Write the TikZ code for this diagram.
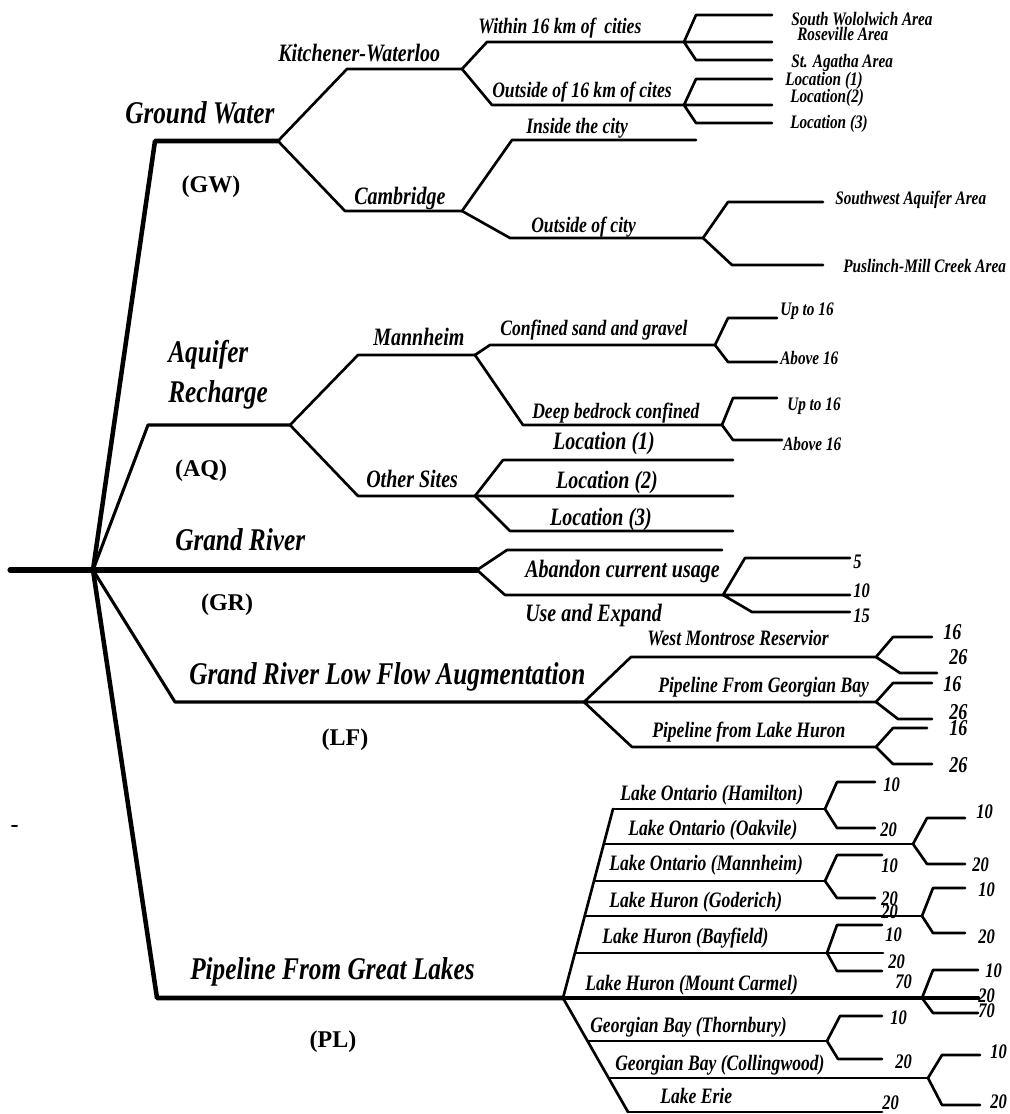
\documentclass[tikz,border=0pt]{standalone}
\usepackage{fontspec}
\setmainfont{Liberation Serif}[FakeStretch=0.8]
\newfontfamily\abbrfont{Liberation Serif}
\begin{document}
\begin{tikzpicture}[x=0.75pt, y=-0.75pt, line join=round, line cap=round,
	trunk/.style={line width=3.4pt}, limb/.style={line width=2.3pt}, twig/.style={line width=2pt},
	lvA/.style={inner sep=0pt, anchor=base west, font=\fontsize{23.7}{28}\selectfont\bfseries\itshape},
	lvB/.style={inner sep=0pt, anchor=base west, font=\fontsize{18.75}{22}\selectfont\bfseries\itshape},
	lvC/.style={inner sep=0pt, anchor=base west, font=\fontsize{16.5}{19}\selectfont\bfseries\itshape},
	leaf/.style={inner sep=0pt, anchor=base west, font=\fontsize{14.3}{16}\selectfont\bfseries\itshape},
	num/.style={inner sep=0pt, anchor=west, font=\fontsize{15.5}{17}\selectfont\bfseries\itshape},
	bignum/.style={inner sep=0pt, anchor=west, font=\fontsize{17}{19}\selectfont\bfseries\itshape},
	abbr/.style={inner sep=0pt, font=\fontsize{18}{20}\selectfont\abbrfont\bfseries}]
	\useasboundingbox (0,0) rectangle (1010,1114);
	% main branches
	\coordinate (tail) at (10,570); \coordinate (root) at (93,570);
	\coordinate (gwC) at (155,141); \coordinate (gwF) at (278,141);
	\coordinate (aqC) at (148,425); \coordinate (aqF) at (290,425);
	\coordinate (grF) at (477,570);
	\coordinate (lfC) at (175,702); \coordinate (lfF) at (584,702);
	\coordinate (plC) at (157,998); \coordinate (plF) at (563,998);
	\draw[trunk] (root)--(gwC)--(gwF);
	\draw[limb] (root)--(aqC)--(aqF);
	\draw[line width=3.8pt] (tail)--(root)--(grF);
	\draw[limb] (root)--(lfC)--(lfF);
	\draw[trunk] (root)--(plC)--(plF);
	\draw[line width=1.5pt] (12,826)--(17,826);
	\node[lvA] (gw) at (125,123) {Ground Water};
	\node[lvA] (aq1) at (168,362) {Aquifer};
	\node[lvA] (aq2) at (168,402) {Recharge};
	\node[lvA] (gr) at (175,550) {Grand River};
	\node[lvA] (lf) at (189,684) {Grand River Low Flow Augmentation};
	\node[lvA] (pl) at (190,979) {Pipeline From Great Lakes};
	\node[abbr] (gwA) at (211,187) {(GW)};
	\node[abbr] (aqA) at (201,471) {(AQ)};
	\node[abbr] (grA) at (227,605) {(GR)};
	\node[abbr] (lfA) at (345,740) {(LF)};
	\node[abbr] (plA) at (333,1042) {(PL)};
	% ground water
	\coordinate (kwC) at (347,69); \coordinate (kwF) at (462,69);
	\coordinate (cbC) at (345,211); \coordinate (cbF) at (462,211);
	\draw[twig] (gwF)--(kwC)--(kwF);
	\draw[twig] (gwF)--(cbC)--(cbF);
	\node[lvB] (kw) at (278,61) {Kitchener-Waterloo};
	\node[lvB] (cb) at (354,204) {Cambridge};
	\coordinate (wiC) at (487,42); \coordinate (wiF) at (684,42);
	\coordinate (ouC) at (492,105); \coordinate (ouF) at (684,105);
	\draw[twig] (kwF)--(wiC)--(wiF);
	\draw[twig] (kwF)--(ouC)--(ouF);
	\node[lvC] (wi) at (478,33) {Within 16 km of\ \ cities};
	\node[lvC] (ou) at (492,97) {Outside of 16 km of cites};
	\draw[twig] (wiF)--(696,15)--(772,15) (wiF)--(772,42) (wiF)--(696,60)--(772,60);
	\draw[twig] (ouF)--(696,79)--(772,79) (ouF)--(772,105) (ouF)--(696,123)--(772,123);
	\node[leaf] (wi1) at (791,25) {South Wololwich Area};
	\node[leaf] (wi2) at (797,40) {Roseville Area};
	\node[leaf] (wi3) at (791,67) {St. Agatha Area};
	\node[leaf] (ou1) at (785,85) {Location (1)};
	\node[leaf] (ou2) at (790,102) {Location(2)};
	\node[leaf] (ou3) at (790,128) {Location (3)};
	\coordinate (inC) at (512,140); \coordinate (inE) at (696,140);
	\coordinate (ocC) at (510,238); \coordinate (ocF) at (703,238);
	\draw[twig] (cbF)--(inC)--(inE);
	\draw[twig] (cbF)--(ocC)--(ocF);
	\node[lvC] (in) at (526,133) {Inside the city};
	\node[lvC] (oc) at (531,232) {Outside of city};
	\draw[twig] (ocF)--(728,202)--(823,202) (ocF)--(732,265)--(823,265);
	\node[leaf] (oc1) at (835,204) {Southwest Aquifer Area};
	\node[leaf] (oc2) at (843,272) {Puslinch-Mill Creek Area};
	% aquifer recharge
	\coordinate (mhC) at (358,355); \coordinate (mhF) at (475,355);
	\coordinate (osC) at (358,496); \coordinate (osF) at (475,496);
	\draw[twig] (aqF)--(mhC)--(mhF);
	\draw[twig] (aqF)--(osC)--(osF);
	\node[lvB] (mh) at (373,345) {Mannheim};
	\node[lvB] (os) at (366,487) {Other Sites};
	\coordinate (csC) at (490,345); \coordinate (csF) at (715,345);
	\coordinate (dbC) at (523,425); \coordinate (dbF) at (722,425);
	\draw[twig] (mhF)--(csC)--(csF);
	\draw[twig] (mhF)--(dbC)--(dbF);
	\node[lvC] (cs) at (500,335) {Confined sand and gravel};
	\node[lvC] (db) at (532,418) {Deep bedrock confined};
	\draw[twig] (csF)--(728,318)--(777,318) (csF)--(728,362)--(777,362);
	\draw[twig] (dbF)--(733,398)--(777,398) (dbF)--(733,440)--(782,440);
	\node[leaf] (cs1) at (780,315) {Up to 16};
	\node[leaf] (cs2) at (780,364) {Above 16};
	\node[leaf] (db1) at (787,410) {Up to 16};
	\node[leaf] (db2) at (783,450) {Above 16};
	\draw[twig] (osF)--(503,460)--(733,460) (osF)--(733,496) (osF)--(510,531)--(733,531);
	\node[lvB, anchor=base] (os1) at (604,449) {Location (1)};
	\node[lvB, anchor=base] (os2) at (607,488) {Location (2)};
	\node[lvB, anchor=base] (os3) at (601,525) {Location (3)};
	% grand river
	\coordinate (ueF) at (723,595);
	\draw[twig] (grF)--(507,550)--(722,550);
	\draw[twig] (grF)--(505,595)--(ueF);
	\node[lvB] (ab) at (525,577) {Abandon current usage};
	\node[lvB] (ue) at (525,621) {Use and Expand};
	\draw[twig] (ueF)--(745,558)--(850,558) (ueF)--(850,595) (ueF)--(752,612)--(850,612);
	\node[num] (ue1) at (853,562) {5};
	\node[num] (ue2) at (853,591) {10};
	\node[num] (ue3) at (853,616) {15};
	% low flow augmentation
	\coordinate (wmF) at (876,657); \coordinate (gbF) at (876,702); \coordinate (lhF) at (876,747);
	\draw[twig] (lfF)--(631,657)--(wmF) (lfF)--(gbF) (lfF)--(632,747)--(lhF);
	\node[lvC] (wm) at (647,645) {West Montrose Reservior};
	\node[lvC] (gb) at (658,692) {Pipeline From Georgian Bay};
	\node[lvC] (lh) at (652,737) {Pipeline from Lake Huron};
	\draw[twig] (wmF)--(893,637)--(932,637) (wmF)--(900,673)--(937,673);
	\draw[twig] (gbF)--(893,683)--(932,683) (gbF)--(898,719)--(932,719);
	\draw[twig] (lhF)--(893,728)--(927,728) (lhF)--(893,764)--(932,764);
	\node[bignum] (wm1) at (943,632) {16};
	\node[bignum] (wm2) at (949,657) {26};
	\node[bignum] (gb1) at (943,684) {16};
	\node[bignum] (gb2) at (949,712) {26};
	\node[bignum] (lh1) at (949,728) {16};
	\node[bignum] (lh2) at (949,765) {26};
	% pipeline from great lakes
	\coordinate (hoP) at (613,809); \coordinate (oaP) at (604,844); \coordinate (maP) at (594,881);
	\coordinate (goP) at (585,916); \coordinate (baP) at (575,953);
	\coordinate (thP) at (588,1041); \coordinate (coP) at (609,1078); \coordinate (erP) at (628,1112);
	\coordinate (hoF) at (825,809); \coordinate (oaF) at (913,844); \coordinate (maF) at (825,881);
	\coordinate (goF) at (922,916); \coordinate (baF) at (827,953); \coordinate (mcF) at (922,998);
	\coordinate (thF) at (827,1041); \coordinate (coF) at (928,1078);
	\draw[twig] (plF)--(hoP) (plF)--(erP);
	\draw[twig] (hoP)--(hoF) (oaP)--(oaF) (maP)--(maF) (goP)--(goF) (baP)--(883,953);
	\draw[trunk] (plF)--(978,998);
	\draw[twig] (thP)--(thF) (coP)--(coF) (erP)--(882,1112);
	\node[lvC] (ho) at (620,800) {Lake Ontario (Hamilton)};
	\node[lvC] (oa) at (628,835) {Lake Ontario (Oakvile)};
	\node[lvC] (ma) at (609,870) {Lake Ontario (Mannheim)};
	\node[lvC] (go) at (609,907) {Lake Huron (Goderich)};
	\node[lvC] (ba) at (602,943) {Lake Huron (Bayfield)};
	\node[lvC] (mc) at (585,990) {Lake Huron (Mount Carmel)};
	\node[lvC] (th) at (590,1032) {Georgian Bay (Thornbury)};
	\node[lvC] (co) at (615,1070) {Georgian Bay (Collingwood)};
	\node[lvC] (er) at (660,1103) {Lake Erie};
	\draw[twig] (hoF)--(837,782)--(875,782) (hoF)--(837,828)--(875,828);
	\draw[twig] (oaF)--(927,818)--(965,818) (oaF)--(927,864)--(965,864);
	\draw[twig] (maF)--(837,855)--(882,855) (maF)--(837,898)--(875,898);
	\draw[twig] (goF)--(933,888)--(965,888) (goF)--(933,933)--(965,933);
	\draw[twig] (baF)--(837,925)--(882,925) (baF)--(837,971)--(882,971);
	\draw[twig] (mcF)--(933,970)--(978,970) (mcF)--(933,1013)--(978,1013);
	\draw[twig] (thF)--(840,1016)--(882,1016) (thF)--(838,1059)--(882,1059);
	\draw[twig] (coF)--(942,1055)--(980,1055) (coF)--(942,1105)--(980,1105);
	\node[num] (ho1) at (883,785) {10};
	\node[num] (ho2) at (880,830) {20};
	\node[num] (oa1) at (976,812) {10};
	\node[num] (oa2) at (972,865) {20};
	\node[num] (ma1) at (881,866) {10};
	\node[num] (ma2) at (881,899) {20};
	\node[num] (ma3) at (881,912) {20};
	\node[num] (go1) at (978,890) {10};
	\node[num] (go2) at (978,937) {20};
	\node[num] (ba1) at (885,935) {10};
	\node[num] (ba2) at (888,962) {20};
	\node[num] (ba3) at (895,982) {70};
	\node[num] (mc1) at (985,971) {10};
	\node[num] (mc2) at (978,996) {20};
	\node[num] (mc3) at (978,1011) {70};
	\node[num] (th1) at (890,1018) {10};
	\node[num] (th2) at (895,1062) {20};
	\node[num] (co1) at (990,1052) {10};
	\node[num] (co2) at (990,1102) {20};
	\node[num] (er1) at (882,1103) {20};
\end{tikzpicture}
\end{document}
